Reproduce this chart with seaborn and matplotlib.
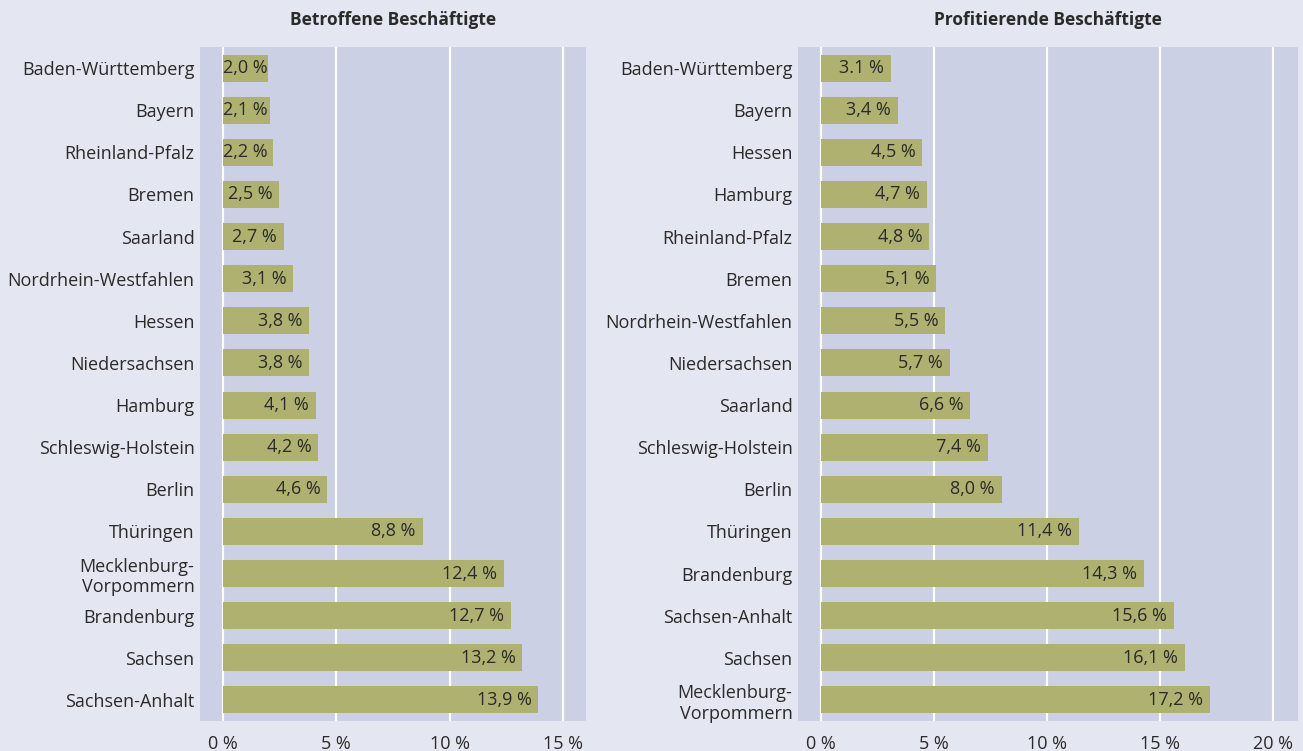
import matplotlib
matplotlib.use("Agg")
import matplotlib.pyplot as plt
import seaborn as sns
import pandas as pd

# left panel: betroffene Beschaeftigte
left_states = [
    "Baden-Württemberg", "Bayern", "Rheinland-Pfalz", "Bremen", "Saarland",
    "Nordrhein-Westfahlen", "Hessen", "Niedersachsen", "Hamburg",
    "Schleswig-Holstein", "Berlin", "Thüringen", "Mecklenburg-\nVorpommern",
    "Brandenburg", "Sachsen", "Sachsen-Anhalt",
]
left_values = [2.0, 2.1, 2.2, 2.5, 2.7, 3.1, 3.8, 3.8, 4.1, 4.2, 4.6,
               8.8, 12.4, 12.7, 13.2, 13.9]
left_labels = ["2,0 %", "2,1 %", "2,2 %", "2,5 %", "2,7 %", "3,1 %", "3,8 %",
               "3,8 %", "4,1 %", "4,2 %", "4,6 %", "8,8 %", "12,4 %",
               "12,7 %", "13,2 %", "13,9 %"]
left_ticks = [0, 5, 10, 15]

# right panel: profitierende Beschaeftigte
right_states = [
    "Baden-Württemberg", "Bayern", "Hessen", "Hamburg", "Rheinland-Pfalz",
    "Bremen", "Nordrhein-Westfahlen", "Niedersachsen", "Saarland",
    "Schleswig-Holstein", "Berlin", "Thüringen", "Brandenburg",
    "Sachsen-Anhalt", "Sachsen", "Mecklenburg-\nVorpommern",
]
right_values = [3.1, 3.4, 4.5, 4.7, 4.8, 5.1, 5.5, 5.7, 6.6, 7.4, 8.0,
                11.4, 14.3, 15.6, 16.1, 17.2]
right_labels = ["3.1 %", "3,4 %", "4,5 %", "4,7 %", "4,8 %", "5,1 %", "5,5 %",
                "5,7 %", "6,6 %", "7,4 %", "8,0 %", "11,4 %", "14,3 %",
                "15,6 %", "16,1 %", "17,2 %"]
right_ticks = [0, 5, 10, 15, 20]

BG = "#e4e6f2"
PANEL = "#cbd0e4"
BAR = "#aeb16f"
TXT = "#2a2a2a"

sns.set_style("white")
plt.rcParams["font.family"] = ["Open Sans", "DejaVu Sans"]

fig = plt.figure(figsize=(13.03, 7.51), dpi=100, facecolor=BG)
ax1 = fig.add_axes([200 / 1303, 30 / 751, 386 / 1303, 674 / 751])
ax2 = fig.add_axes([798 / 1303, 30 / 751, 500 / 1303, 674 / 751])


def draw_panel(ax, states, values, labels, ticks, xmax, title):
    df = pd.DataFrame({"state": states, "value": values})
    sns.barplot(data=df, x="value", y="state", orient="h", color=BAR,
                saturation=1, width=0.64, linewidth=0, ax=ax, zorder=3)
    ax.set_facecolor(PANEL)
    ax.set_xlim(-1, xmax)
    ax.set_ylim(len(states) - 0.5, -0.5)
    ax.set_xticks(ticks)
    ax.set_xticklabels([f"{t} %" for t in ticks])
    ax.xaxis.grid(True, color="white", linewidth=1.6, zorder=0)
    ax.set_axisbelow(True)
    for s in ax.spines.values():
        s.set_visible(False)
    ax.tick_params(axis="both", length=0, labelsize=13, colors=TXT)
    ax.tick_params(axis="x", pad=10)
    ax.tick_params(axis="y", pad=4)
    ax.set_xlabel("")
    ax.set_ylabel("")
    ax.set_title(title, fontsize=12.5, fontweight="bold", color=TXT, pad=16)
    for i, (v, lab) in enumerate(zip(values, labels)):
        # small bars: keep the label from running past the zero line
        ax.text(max(v - 0.3, 2.0), i, lab, ha="right", va="center",
                fontsize=13, color=TXT, zorder=4)


draw_panel(ax1, left_states, left_values, left_labels, left_ticks, 16.0,
           "Betroffene Beschäftigte")
draw_panel(ax2, right_states, right_values, right_labels, right_ticks, 21.1,
           "Profitierende Beschäftigte")

fig.savefig("out.png", dpi=100, facecolor=BG)
